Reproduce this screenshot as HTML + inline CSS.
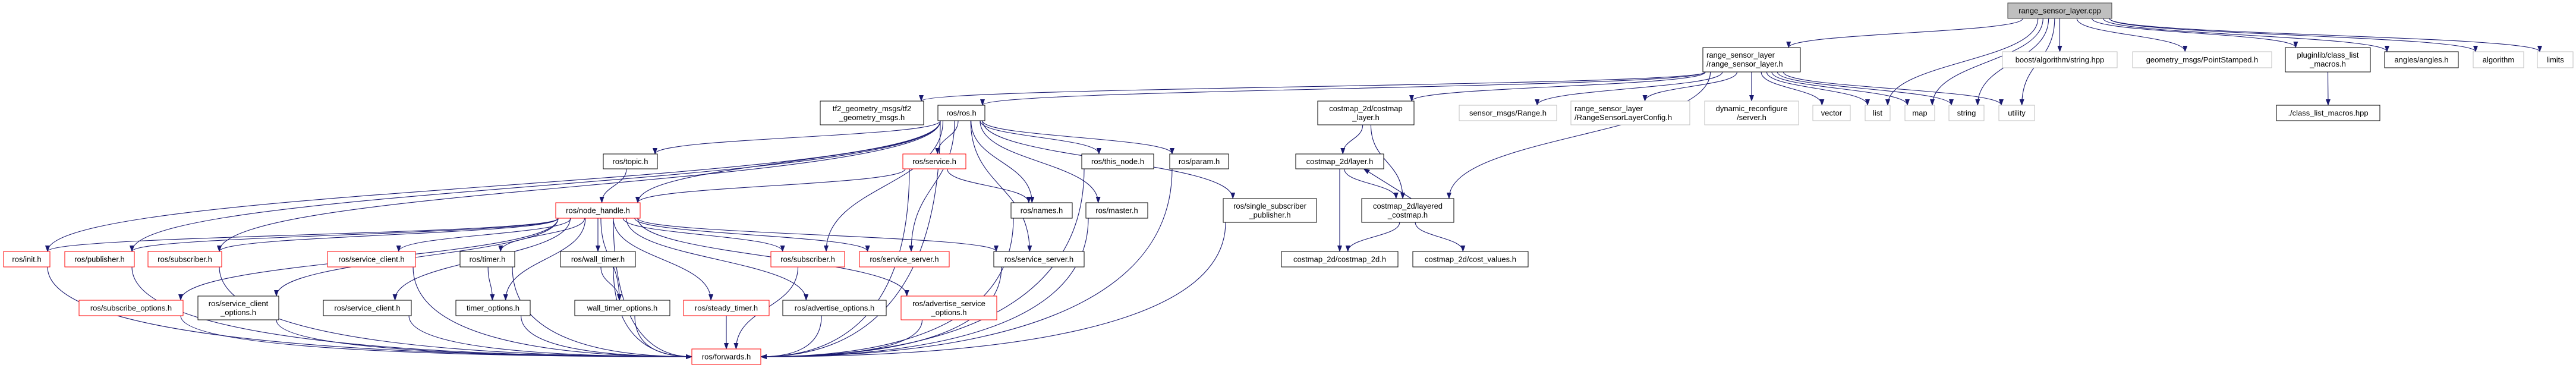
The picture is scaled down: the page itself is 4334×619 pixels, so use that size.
<!DOCTYPE html>
<html><head><meta charset="utf-8"><style>
html,body{margin:0;padding:0;background:#fff;}
svg{display:block;}
text{font-family:"Liberation Sans",sans-serif;font-size:13px;fill:#000;}
</style></head><body>
<svg id="g" width="4334" height="619" viewBox="0 0 4334 619" xmlns="http://www.w3.org/2000/svg">
<defs><marker id="a" markerWidth="11" markerHeight="8" refX="10" refY="4" orient="auto" markerUnits="userSpaceOnUse"><path d="M0,0 L11,4 L0,8 z" fill="#191970"/></marker></defs>
<g id="edges" fill="none" stroke="#191970" stroke-width="1.1"></g>
<g id="nodes" stroke-width="1">
<rect x="3378" y="5" width="175" height="26" fill="#bfbfbf" stroke="#404040"/><text x="3465.5" y="22.5" text-anchor="middle">range_sensor_layer.cpp</text>
<rect x="2865" y="80" width="164" height="41" fill="#fff" stroke="#000"/><text x="2871" y="97" >range_sensor_layer</text><text x="2871" y="112">/range_sensor_layer.h</text>
<rect x="3369" y="87" width="193" height="27" fill="#fff" stroke="#bfbfbf"/><text x="3465.5" y="105" text-anchor="middle">boost/algorithm/string.hpp</text>
<rect x="3588" y="87" width="234" height="27" fill="#fff" stroke="#bfbfbf"/><text x="3705" y="105" text-anchor="middle">geometry_msgs/PointStamped.h</text>
<rect x="3845" y="80" width="143" height="41" fill="#fff" stroke="#000"/><text x="3916.5" y="97" text-anchor="middle">pluginlib/class_list</text><text x="3916.5" y="112" text-anchor="middle">_macros.h</text>
<rect x="4012" y="87" width="124" height="27" fill="#fff" stroke="#000"/><text x="4074" y="105" text-anchor="middle">angles/angles.h</text>
<rect x="4161" y="87" width="85" height="27" fill="#fff" stroke="#bfbfbf"/><text x="4203.5" y="105" text-anchor="middle">algorithm</text>
<rect x="4269" y="87" width="60" height="27" fill="#fff" stroke="#bfbfbf"/><text x="4299" y="105" text-anchor="middle">limits</text>
<rect x="3830" y="177" width="174" height="26" fill="#fff" stroke="#000"/><text x="3917" y="194.5" text-anchor="middle">./class_list_macros.hpp</text>
<rect x="3363" y="177" width="60" height="26" fill="#fff" stroke="#bfbfbf"/><text x="3393" y="194.5" text-anchor="middle">utility</text>
<rect x="3279" y="177" width="59" height="26" fill="#fff" stroke="#bfbfbf"/><text x="3308.5" y="194.5" text-anchor="middle">string</text>
<rect x="3205" y="177" width="50" height="26" fill="#fff" stroke="#bfbfbf"/><text x="3230" y="194.5" text-anchor="middle">map</text>
<rect x="3138" y="177" width="42" height="26" fill="#fff" stroke="#bfbfbf"/><text x="3159" y="194.5" text-anchor="middle">list</text>
<rect x="3050" y="177" width="63" height="26" fill="#fff" stroke="#bfbfbf"/><text x="3081.5" y="194.5" text-anchor="middle">vector</text>
<rect x="2868" y="170" width="158" height="40" fill="#fff" stroke="#bfbfbf"/><text x="2947" y="187" text-anchor="middle">dynamic_reconfigure</text><text x="2947" y="202" text-anchor="middle">/server.h</text>
<rect x="2643" y="170" width="200" height="40" fill="#fff" stroke="#bfbfbf"/><text x="2649" y="187">range_sensor_layer</text><text x="2649" y="202">/RangeSensorLayerConfig.h</text>
<rect x="2455" y="177" width="164" height="26" fill="#fff" stroke="#bfbfbf"/><text x="2537" y="194.5" text-anchor="middle">sensor_msgs/Range.h</text>
<rect x="2217" y="170" width="162" height="40" fill="#fff" stroke="#000"/><text x="2298" y="187" text-anchor="middle">costmap_2d/costmap</text><text x="2298" y="202" text-anchor="middle">_layer.h</text>
<rect x="1380" y="170" width="174" height="40" fill="#fff" stroke="#000"/><text x="1467" y="187" text-anchor="middle">tf2_geometry_msgs/tf2</text><text x="1467" y="202" text-anchor="middle">_geometry_msgs.h</text>
<rect x="1578" y="177" width="79" height="26" fill="#fff" stroke="#000"/><text x="1617.5" y="194.5" text-anchor="middle">ros/ros.h</text>
<rect x="1519" y="259" width="106" height="25" fill="#fff" stroke="#f00"/><text x="1572" y="276" text-anchor="middle">ros/service.h</text>
<rect x="1015" y="259" width="91" height="25" fill="#fff" stroke="#000"/><text x="1060.5" y="276" text-anchor="middle">ros/topic.h</text>
<rect x="1820" y="259" width="121" height="25" fill="#fff" stroke="#000"/><text x="1880.5" y="276" text-anchor="middle">ros/this_node.h</text>
<rect x="1968" y="259" width="99" height="25" fill="#fff" stroke="#000"/><text x="2017.5" y="276" text-anchor="middle">ros/param.h</text>
<rect x="2180" y="259" width="148" height="25" fill="#fff" stroke="#000"/><text x="2254" y="276" text-anchor="middle">costmap_2d/layer.h</text>
<rect x="935" y="341" width="142" height="26" fill="#fff" stroke="#f00"/><text x="1006" y="358.5" text-anchor="middle">ros/node_handle.h</text>
<rect x="1701" y="341" width="103" height="26" fill="#fff" stroke="#000"/><text x="1752.5" y="358.5" text-anchor="middle">ros/names.h</text>
<rect x="1827" y="341" width="104" height="26" fill="#fff" stroke="#000"/><text x="1879" y="358.5" text-anchor="middle">ros/master.h</text>
<rect x="2058" y="334" width="157" height="40" fill="#fff" stroke="#000"/><text x="2136.5" y="351" text-anchor="middle">ros/single_subscriber</text><text x="2136.5" y="366" text-anchor="middle">_publisher.h</text>
<rect x="2291" y="334" width="155" height="40" fill="#fff" stroke="#000"/><text x="2368.5" y="351" text-anchor="middle">costmap_2d/layered</text><text x="2368.5" y="366" text-anchor="middle">_costmap.h</text>
<rect x="6" y="423" width="78" height="26" fill="#fff" stroke="#f00"/><text x="45" y="440.5" text-anchor="middle">ros/init.h</text>
<rect x="109" y="423" width="117" height="26" fill="#fff" stroke="#f00"/><text x="167.5" y="440.5" text-anchor="middle">ros/publisher.h</text>
<rect x="249" y="423" width="124" height="26" fill="#fff" stroke="#f00"/><text x="311" y="440.5" text-anchor="middle">ros/subscriber.h</text>
<rect x="551" y="423" width="148" height="26" fill="#fff" stroke="#f00"/><text x="625" y="440.5" text-anchor="middle">ros/service_client.h</text>
<rect x="774" y="423" width="92" height="26" fill="#fff" stroke="#000"/><text x="820" y="440.5" text-anchor="middle">ros/timer.h</text>
<rect x="943" y="423" width="126" height="26" fill="#fff" stroke="#000"/><text x="1006" y="440.5" text-anchor="middle">ros/wall_timer.h</text>
<rect x="1297" y="423" width="124" height="26" fill="#fff" stroke="#f00"/><text x="1359" y="440.5" text-anchor="middle">ros/subscriber.h</text>
<rect x="1446" y="423" width="151" height="26" fill="#fff" stroke="#f00"/><text x="1521.5" y="440.5" text-anchor="middle">ros/service_server.h</text>
<rect x="1672" y="423" width="152" height="26" fill="#fff" stroke="#000"/><text x="1748" y="440.5" text-anchor="middle">ros/service_server.h</text>
<rect x="2156" y="423" width="196" height="26" fill="#fff" stroke="#000"/><text x="2254" y="440.5" text-anchor="middle">costmap_2d/costmap_2d.h</text>
<rect x="2377" y="423" width="194" height="26" fill="#fff" stroke="#000"/><text x="2474" y="440.5" text-anchor="middle">costmap_2d/cost_values.h</text>
<rect x="133" y="505" width="175" height="26" fill="#fff" stroke="#f00"/><text x="220.5" y="522.5" text-anchor="middle">ros/subscribe_options.h</text>
<rect x="333" y="498" width="136" height="40" fill="#fff" stroke="#000"/><text x="401" y="515" text-anchor="middle">ros/service_client</text><text x="401" y="530" text-anchor="middle">_options.h</text>
<rect x="544" y="505" width="148" height="26" fill="#fff" stroke="#000"/><text x="618" y="522.5" text-anchor="middle">ros/service_client.h</text>
<rect x="767" y="505" width="125" height="26" fill="#fff" stroke="#000"/><text x="829.5" y="522.5" text-anchor="middle">timer_options.h</text>
<rect x="967" y="505" width="160" height="26" fill="#fff" stroke="#000"/><text x="1047" y="522.5" text-anchor="middle">wall_timer_options.h</text>
<rect x="1150" y="505" width="144" height="26" fill="#fff" stroke="#f00"/><text x="1222" y="522.5" text-anchor="middle">ros/steady_timer.h</text>
<rect x="1317" y="505" width="174" height="26" fill="#fff" stroke="#000"/><text x="1404" y="522.5" text-anchor="middle">ros/advertise_options.h</text>
<rect x="1516" y="498" width="161" height="40" fill="#fff" stroke="#f00"/><text x="1596.5" y="515" text-anchor="middle">ros/advertise_service</text><text x="1596.5" y="530" text-anchor="middle">_options.h</text>
<rect x="1164" y="587" width="116" height="26" fill="#fff" stroke="#f00"/><text x="1222" y="604.5" text-anchor="middle">ros/forwards.h</text>
</g>
</svg>
<script>
var N={cpp:[3378,5,3553,31],rslh:[2865,80,3029,121],boost:[3369,87,3562,114],geom:[3588,87,3822,114],plugin:[3845,80,3988,121],angles:[4012,87,4136,114],algorithm:[4161,87,4246,114],limits:[4269,87,4329,114],clm:[3830,177,4004,203],utility:[3363,177,3423,203],string:[3279,177,3338,203],map:[3205,177,3255,203],list:[3138,177,3180,203],vector:[3050,177,3113,203],dyn:[2868,170,3026,210],cfg:[2643,170,2843,210],range:[2455,177,2619,203],cml:[2217,170,2379,210],tf2:[1380,170,1554,210],rosh:[1578,177,1657,203],service:[1519,259,1625,284],topic:[1015,259,1106,284],thisnode:[1820,259,1941,284],param:[1968,259,2067,284],layer:[2180,259,2328,284],nh:[935,341,1077,367],names:[1701,341,1804,367],master:[1827,341,1931,367],ssp:[2058,334,2215,374],layered:[2291,334,2446,374],init:[6,423,84,449],pub:[109,423,226,449],sub1:[249,423,373,449],scr:[551,423,699,449],timer:[774,423,866,449],wtimer:[943,423,1069,449],sub2:[1297,423,1421,449],ssr:[1446,423,1597,449],ssb:[1672,423,1824,449],c2d:[2156,423,2352,449],cv:[2377,423,2571,449],so:[133,505,308,531],sco:[333,498,469,538],scb:[544,505,692,531],to:[767,505,892,531],wto:[967,505,1127,531],st:[1150,505,1294,531],ao:[1317,505,1491,531],aso:[1516,498,1677,538],fw:[1164,587,1280,613]};
var E="cpp rslh,cpp boost,cpp geom,cpp plugin,cpp angles,cpp algorithm,cpp limits,cpp utility,cpp string,cpp map,cpp list,plugin clm,rslh tf2,rslh rosh,rslh cml,rslh layered,rslh range,rslh cfg,rslh dyn,rslh vector,rslh list,rslh map,rslh string,rslh utility,cml layer,cml layered,layer c2d,layer layered,layered layer,layered c2d,layered cv,rosh topic,rosh nh,rosh init,rosh pub,rosh sub1,rosh service,rosh sub2,rosh ssr,rosh ssb,rosh names,rosh master,rosh thisnode,rosh param,rosh ssp,rosh fw,service nh,service names,service fw,topic nh,nh init,nh pub,nh sub1,nh so,nh sco,nh scr,nh scb,nh timer,nh to,nh wtimer,nh wto,nh st,nh ao,nh aso,nh sub2,nh ssr,nh ssb,nh fw,init fw,pub fw,so fw,sco fw,scb fw,timer to,timer fw,to fw,wtimer wto,wtimer fw,wto fw,st fw,ao fw,aso fw,sub2 fw,ssb fw,names fw,master fw,thisnode fw,param fw,ssp fw,scr fw,sub1 fw".split(",");
function cl(v,m){return Math.max(-m,Math.min(m,v));}
var g=document.getElementById('edges'),ns="http://www.w3.org/2000/svg";
E.forEach(function(e){var p=e.split(" "),a=N[p[0]],b=N[p[1]];
var acx=(a[0]+a[2])/2,bcx=(b[0]+b[2])/2,aw=(a[2]-a[0])/2,bw=(b[2]-b[0])/2;
var off=0;if(e=="layer layered")off=-6;if(e=="layered layer")off=6;
var d;
if(b[1]>a[3]){
 var sx=acx+cl((bcx-acx)*0.12,aw-4)+off,sy=a[3];
 if(p[1]=="fw"&&Math.abs(bcx-acx)>160){
  var left=acx<bcx,ex=left?b[0]:b[2],ey=(b[1]+b[3])/2;
  d="M"+sx+","+sy+" C"+sx+","+(sy+(ey-sy)*0.8)+" "+(ex+(left?-1:1)*Math.abs(ex-sx)*0.5)+","+ey+" "+ex+","+ey;
 } else {
  var ex=bcx+cl((acx-bcx)*0.12,bw-4)+off,ey=b[1],dy=ey-sy;
  d="M"+sx+","+sy+" C"+sx+","+(sy+dy*0.5)+" "+ex+","+(ey-dy*0.5)+" "+ex+","+ey;
 }
} else {
 var sx=acx+off,sy=a[1],ex=bcx+off+cl((acx-bcx)*0.3,bw-4),ey=b[3];
 d="M"+sx+","+sy+" L"+ex+","+ey;
}
var el=document.createElementNS(ns,"path");el.setAttribute("d",d);el.setAttribute("marker-end","url(#a)");g.appendChild(el);});
</script>
</body></html>
